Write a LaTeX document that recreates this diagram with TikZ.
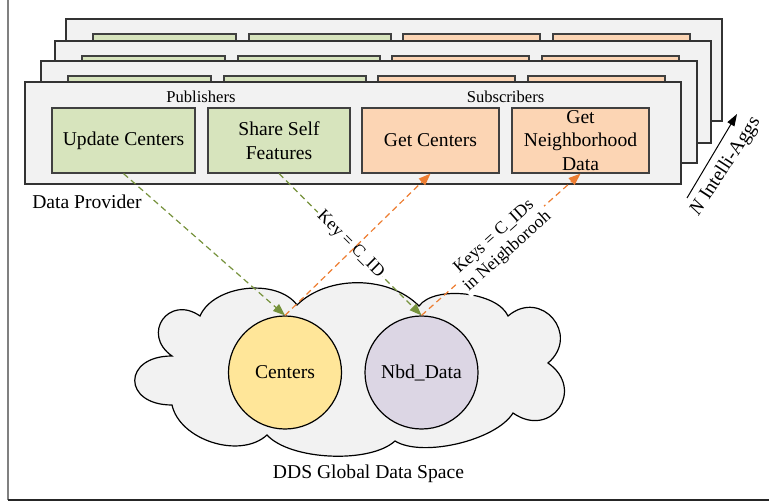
\documentclass[tikz,border=0pt]{standalone}
\usepackage{fontspec}
\setmainfont{Liberation Serif}
\usetikzlibrary{arrows.meta}

\definecolor{pubfill}{HTML}{D7E4BD}
\definecolor{subfill}{HTML}{FCD5B4}
\definecolor{layerfill}{HTML}{F2F2F2}
\definecolor{publine}{HTML}{76923C}
\definecolor{subline}{HTML}{ED7D31}
\definecolor{centfill}{HTML}{FFE699}
\definecolor{nbdfill}{HTML}{DCD6E4}

\begin{document}
\begin{tikzpicture}[x=0.5pt, y=-0.5pt,
    font=\rmfamily\fontsize{9.8}{11.8}\selectfont,
    layer/.style={draw=black!80, fill=layerfill, line width=0.6pt},
    pub/.style={draw=black!75, fill=pubfill, line width=0.6pt, inner sep=0pt,
        align=center, minimum height=32.5pt},
    sub/.style={pub, fill=subfill},
    store/.style={circle, draw=black, line width=0.6pt, minimum size=56.5pt, inner sep=0pt},
    pubflow/.style={publine, dash pattern=on 3pt off 2pt, line width=0.6pt,
        -{Triangle[length=6pt,width=4.5pt]}},
    subflow/.style={pubflow, subline},
    keylabel/.style={midway, sloped, fill=white, text=black, inner sep=1pt, align=center,
        font=\rmfamily\fontsize{8.8}{10}\selectfont}]
    \useasboundingbox (0,0) rectangle (769,501);

    % Frame
    \draw[gray, line width=1pt] (8,0) -- (8,499.5);
    \draw[black!85, line width=1pt] (8,499.5) -- (769,499.5);

    % Copies of the aggregator, back to front
    \foreach \lx/\ty in {66/19, 55/41, 41/61} {
        \draw[layer] (\lx,\ty) rectangle ++(656,102);
        \foreach \bx/\bw/\c in {27/143/pubfill, 183/142/pubfill, 337/137/subfill, 487/137/subfill}
            \draw[draw=black!75, fill=\c, line width=0.6pt] (\lx+\bx,\ty+15) rectangle ++(\bw,65);
    }

    % Front copy
    \draw[layer] (25,82) rectangle (681,184);
    \node[font=\rmfamily\fontsize{8.3}{10}\selectfont] (pubs) at (201,97) {Publishers};
    \node[font=\rmfamily\fontsize{8.3}{10}\selectfont] (subs) at (505.5,97) {Subscribers};
    \node[pub, minimum width=71.5pt] (upd) at (123.5,140.5) {Update Centers};
    \node[pub, minimum width=71pt] (share) at (279,140.5) {Share Self\\Features};
    \node[sub, minimum width=68.5pt] (getc) at (430.5,140.5) {Get Centers};
    \node[sub, minimum width=68.5pt] (getn) at (580.5,140.5) {Get\\Neighborhood\\Data};
    \node (prov) at (87,202) {Data Provider};

    % Number of aggregators
    \coordinate (aggs0) at (687,198);
    \coordinate (aggs1) at (737,114);
    \draw[line width=0.5pt, -{Triangle[length=6pt,width=4pt]}] (aggs0) -- (aggs1);
    \node[rotate=57, inner sep=1pt] (aggslab) at (725.5,166.5) {\textit{N} Intelli-Aggs};

    % Global data space
    \draw[fill=layerfill, line width=0.6pt] (297,305)
        to[bend left=45, looseness=0.9] (419,306)
        to[bend left=60, looseness=0.75] (508,316)
        to[bend left=90, looseness=1.8] (548,363)
        to[bend left=90, looseness=1.95] (513,413)
        to[bend left=45, looseness=0.68] (395,441)
        to[bend left=45, looseness=0.68] (267,435)
        to[bend left=60, looseness=0.93] (172,405)
        to[bend left=90, looseness=2.6] (172,356)
        to[bend left=90, looseness=2.0] (200,316)
        to[bend left=60, looseness=0.89] (297,305) -- cycle;
    \node[store, fill=centfill] (cent) at (285,372.5) {Centers};
    \node[store, fill=nbdfill] (nbd) at (421.5,372.5) {Nbd\_Data};
    \node (dds) at (368.5,474) {DDS Global Data Space};

    % Writes and reads
    \draw[pubflow] (upd.south) -- (cent.north);
    \draw[pubflow] (share.south) -- node[keylabel] {Key = C\_ID} (nbd.north);
    \draw[subflow] (cent.north) -- (getc.south);
    \draw[subflow] (nbd.north) -- node[keylabel] {Keys = C\_IDs\\in Neighborooh} (getn.south);
\end{tikzpicture}
\end{document}
